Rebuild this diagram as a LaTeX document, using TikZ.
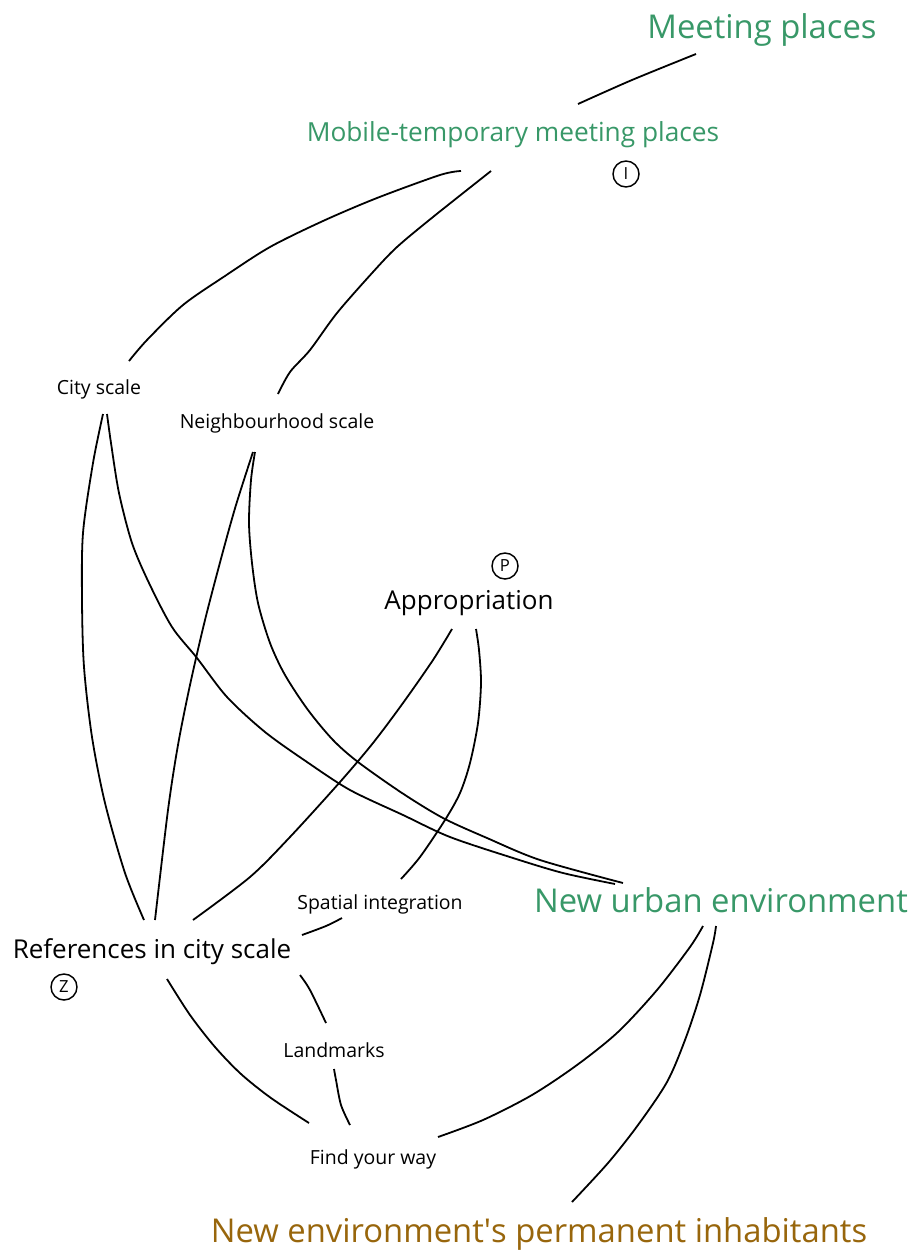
\documentclass[tikz,border=0pt]{standalone}
\usepackage{fontspec}
\setmainfont{Open Sans}
\definecolor{placegreen}{RGB}{56,152,104}
\definecolor{peoplebrown}{RGB}{152,102,12}
\tikzset{
  bigterm/.style={font=\fontsize{24.6}{28}\selectfont, text=placegreen},
  midterm/.style={font=\fontsize{19.5}{23}\selectfont},
  smallterm/.style={font=\fontsize{14.6}{17}\selectfont},
  tag/.style={draw, circle, line width=1.1pt, minimum size=19.5pt, inner sep=0pt, font=\fontsize{12.5}{14}\selectfont},
  link/.style={line width=1.35pt, smooth, tension=0.5}
}
\begin{document}
\begin{tikzpicture}[x=0.75pt,y=-0.75pt]
    \useasboundingbox (0,0) rectangle (912,1255);
    \node[bigterm] (meet) at (762,30) {Meeting places};
    \node[font=\fontsize{19.7}{23}\selectfont, text=placegreen] (mobile) at (513,135) {Mobile-temporary meeting places};
    \node[tag] (tagI) at (626,174) {I};
    \node[smallterm] (city) at (99,389) {City scale};
    \node[smallterm] (neigh) at (277,423) {Neighbourhood scale};
    \node[tag] (tagP) at (505,566) {P};
    \node[midterm] (appr) at (469,603) {Appropriation};
    \node[bigterm] (urban) at (721,900) {New urban environment};
    \node[smallterm] (spatial) at (380,904) {Spatial integration};
    \node[midterm] (refs) at (152,952) {References in city scale};
    \node[tag] (tagZ) at (64,987) {Z};
    \node[smallterm] (land) at (334,1050) {Landmarks};
    \node[smallterm] (way) at (373,1159) {Find your way};
    \node[bigterm, text=peoplebrown] (perm) at (539,1234) {New environment\textquotesingle s permanent inhabitants};

    \draw[link] plot coordinates {([shift={(-66,24)}]meet.center) (632,80) ([shift={(65,-31)}]mobile.center)};
    \draw[link] plot coordinates {([shift={(-52,36)}]mobile.center) (440,175) (377,198) (323,221) (270,247) (225,276) (183,305) (147,340) ([shift={(30,-28)}]city.center)};
    \draw[link] plot coordinates {([shift={(-22,36)}]mobile.center) (433,217) (397,247) (373,272) (337,313) (310,350) (290,372) ([shift={(1,-29)}]neigh.center)};
    \draw[link] plot coordinates {([shift={(4,25)}]city.center) (93,463) (83,533) (82,600) (84,667) (92,737) (105,803) (125,873) ([shift={(-8,-32)}]refs.center)};
    \draw[link] plot coordinates {([shift={(8,25)}]city.center) (111,443) (119,493) (132,543) (149,583) (172,627) (197,658) (227,697) (265,732) (307,762) (350,790) (403,815) (450,837) (513,858) (563,873) ([shift={(-106,-16)}]urban.center)};
    \draw[link] plot coordinates {([shift={(-24,29)}]neigh.center) (236,505) (222,555) (205,620) (190,685) (178,745) (168,810) ([shift={(3,-32)}]refs.center)};
    \draw[link] plot coordinates {([shift={(-22,29)}]neigh.center) (251,480) (249,523) (252,563) (258,603) (270,643) (285,675) (308,710) (333,740) (358,762) (402,793) (443,818) (487,838) (540,860) ([shift={(-98,-17)}]urban.center)};
    \draw[link] plot coordinates {([shift={(-17,26)}]appr.center) (433,660) (403,703) (373,743) (340,782) (290,837) (250,877) ([shift={(41,-32)}]refs.center)};
    \draw[link] plot coordinates {([shift={(7,26)}]appr.center) (479,650) (481,683) (478,723) (470,763) (460,793) (445,820) (420,857) ([shift={(21,-25)}]spatial.center)};
    \draw[link] plot coordinates {([shift={(-38,14)}]spatial.center) (326,926) ([shift={(150,-17)}]refs.center)};
    \draw[link] plot coordinates {([shift={(148,23)}]refs.center) (310,990) ([shift={(-8,-27)}]land.center)};
    \draw[link] plot coordinates {([shift={(15,27)}]refs.center) (190,1015) (215,1047) (241,1074) (271,1098) ([shift={(-64,-36)}]way.center)};
    \draw[link] plot coordinates {([shift={(0,19)}]land.center) (336,1080) (341,1105) ([shift={(-23,-34)}]way.center)};
    \draw[link] plot coordinates {([shift={(-18,26)}]urban.center) (690,947) (657,990) (618,1032) (577,1065) (532,1095) (483,1120) ([shift={(65,-22)}]way.center)};
    \draw[link] plot coordinates {([shift={(-5,26)}]urban.center) (713,943) (700,995) (685,1040) (667,1082) (638,1125) (608,1163) ([shift={(33,-32)}]perm.center)};
\end{tikzpicture}
\end{document}
